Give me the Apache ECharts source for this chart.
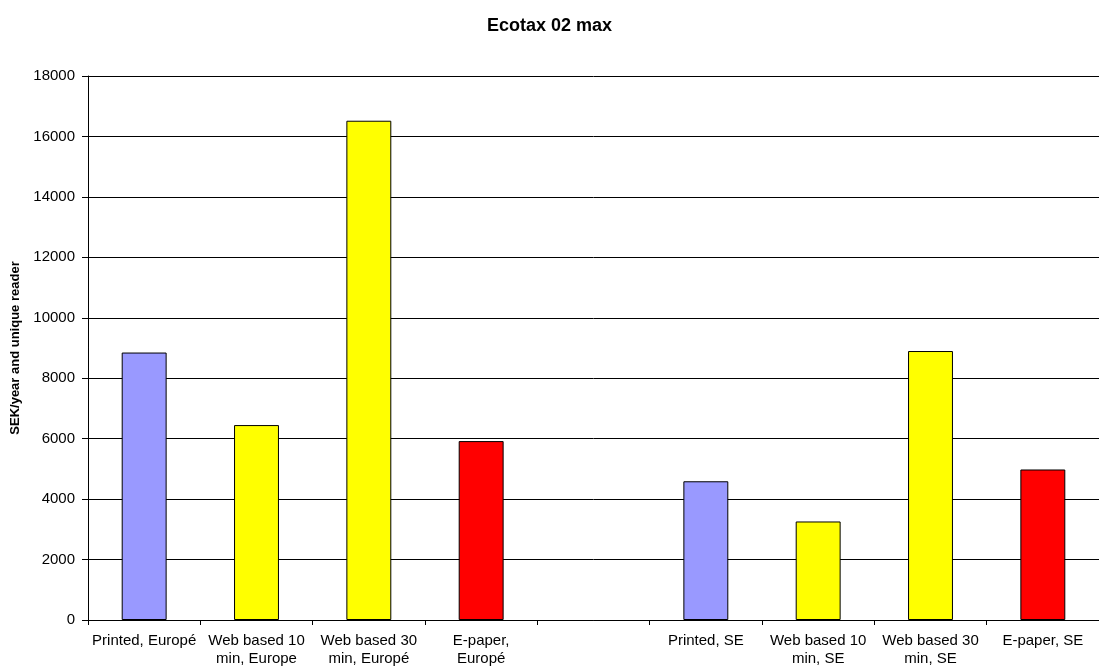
<!DOCTYPE html>
<html>
<head>
<meta charset="utf-8">
<script src="https://cdn.jsdelivr.net/npm/echarts@6/dist/echarts.min.js"></script>
<style>html,body{margin:0;padding:0;background:#fff}#c{width:1099px;height:668px}</style>
</head>
<body>
<div id="c"></div>
<script>
const titleText = "Ecotax 02 max";
const yAxisName = "SEK/year and unique reader";
const categories = ["Printed, Europé", "Web based 10\nmin, Europe", "Web based 30\nmin, Europé", "E-paper,\nEuropé", "", "Printed, SE", "Web based 10\nmin, SE", "Web based 30\nmin, SE", "E-paper, SE"];
const values = [8850, 6450, 16520, 5920, null, 4590, 3260, 8900, 4980];
const barColors = ["#9999FF", "#FFFF00", "#FFFF00", "#FF0000", "#FFFFFF", "#9999FF", "#FFFF00", "#FFFF00", "#FF0000"];
const yMin = 0, yMax = 18000, yStep = 2000;

const FONT = 'Liberation Sans, Arial, sans-serif';
const chart = echarts.init(document.getElementById('c'));
chart.setOption({
  animation: false,
  backgroundColor: '#fff',
  title: {
    text: titleText, left: 'center', top: 12,
    textStyle: {fontFamily: FONT, fontSize: 18, fontWeight: 'bold', color: '#000'}
  },
  grid: {left: 88, right: 0, top: 76, bottom: 47, containLabel: false},
  xAxis: {
    type: 'category', data: categories, boundaryGap: true,
    axisLine: {lineStyle: {color: '#000', width: 1}},
    axisTick: {show: true, alignWithLabel: false, interval: 0, length: 5, lineStyle: {color: '#000'}},
    axisLabel: {interval: 0, margin: 12, color: '#000', fontFamily: FONT, fontSize: 15, lineHeight: 18},
    splitLine: {show: false}
  },
  yAxis: {
    type: 'value', min: yMin, max: yMax, interval: yStep,
    name: yAxisName, nameLocation: 'middle', nameGap: 65, nameRotate: 90,
    nameTextStyle: {fontFamily: FONT, fontSize: 13, fontWeight: 'bold', color: '#000'},
    axisLine: {show: true, lineStyle: {color: '#000', width: 1}},
    axisTick: {show: true, length: 6, lineStyle: {color: '#000'}},
    axisLabel: {margin: 13, color: '#000', fontFamily: FONT, fontSize: 15, formatter: v => String(v)},
    splitLine: {show: true, lineStyle: {color: '#000', width: 1}}
  },
  series: [{
    type: 'bar',
    barWidth: '40%',
    data: values.map((v, i) => ({value: v, itemStyle: {color: barColors[i]}})),
    itemStyle: {borderColor: '#000', borderWidth: 1}
  }]
});
</script>
</body>
</html>
